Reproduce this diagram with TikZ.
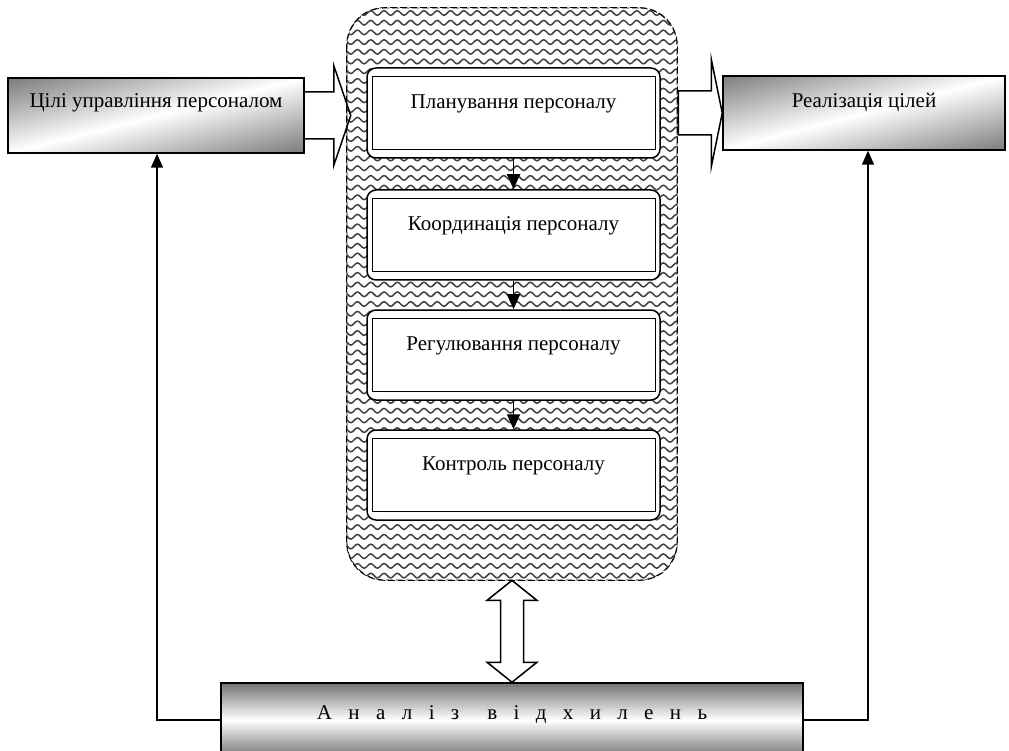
\documentclass[tikz,border=0pt]{standalone}
\usepackage{fontspec}
\setmainfont{Liberation Serif}
\usetikzlibrary{calc,decorations.pathmorphing,arrows.meta}
\begin{document}
\begin{tikzpicture}[x=1pt,y=-1pt,
  font=\fontsize{21}{25}\selectfont,
  gradbox/.style={draw=black, line width=1.5pt, inner sep=0pt,
    path picture={
      \shade[draw=none, solid, sharp corners, transform canvas={rotate around={#1:(path picture bounding box.center)}},
        top color=black!52, bottom color=black!52, middle color=white]
        ($(path picture bounding box.center)+(-220,-73)$) rectangle ($(path picture bounding box.center)+(220,73)$);
    }},
  anabox/.style={draw=black, line width=1.5pt, top color=black!55, bottom color=black!55, middle color=white, inner sep=0pt},
  stage/.style={draw=black, line width=1.5pt, rounded corners=9pt, fill=white, minimum width=293pt, minimum height=90pt, text height=13pt, text depth=22pt, inner sep=0pt},
  innerframe/.style={draw=black, line width=1.3pt},
  wave/.style={draw=black!75, line width=1.5pt, solid, sharp corners, decorate, decoration={snake, amplitude=2.3pt, segment length=13.3pt}},
  container/.style={draw=black, line width=0.8pt, dash pattern=on 7pt off 3pt, rounded corners=38pt, minimum width=330pt, minimum height=572pt, inner sep=0pt},
  hollow/.style={draw=black, line width=1.5pt, line join=miter},
  stagearrow/.style={draw=black, line width=1.8pt, -{Triangle[length=15pt,width=13pt]}},
  fb/.style={draw=black, line width=1.5pt, -{Triangle[length=14pt,width=12pt]}}
]
\clip (0,0) rectangle (1009,751);
\useasboundingbox (0,0) rectangle (1009,751);

% side boxes
\node[gradbox=14.2, minimum width=296pt, minimum height=75pt, text height=13pt, text depth=28pt] (goals) at (156,115.5) {Цілі управління персоналом};
\node[gradbox=14.7, minimum width=282pt, minimum height=74pt, text height=13pt, text depth=24pt] (real) at (864,113) {Реалізація цілей};

% container with wave pattern
\node[container] (cont) at (512,294) {};
\begin{scope}
  \clip[rounded corners=38pt] (cont.north west) rectangle (cont.south east);
  \foreach \i in {0,...,60}{
    \draw[wave] (340,{13+\i*9.7}) -- (690,{13+\i*9.7});
  }
\end{scope}
\draw[container] (cont.north west) rectangle (cont.south east);

% stages
\node[stage] (p1) at (513.5,113) {Планування персоналу};
\node[stage] (p2) at (513.5,235) {Координація персоналу};
\node[stage] (p3) at (513.5,355) {Регулювання персоналу};
\node[stage] (p4) at (513.5,475) {Контроль персоналу};
\foreach \n in {p1,p2,p3,p4}{
  \draw[innerframe] ($(\n.north west)+(6,9.5)$) rectangle ($(\n.south east)+(-5,-9)$);
}
\draw[stagearrow] (p1.south) -- (p2.north);
\draw[stagearrow] (p2.south) -- (p3.north);
\draw[stagearrow] (p3.south) -- (p4.north);

% analysis box
\node[anabox, minimum width=582pt, minimum height=74pt, text height=13pt, text depth=14pt] (ana) at (512,720) {\addfontfeatures{LetterSpace=78}Аналіз\hspace{28pt}відхилень\hspace{14pt}};

% hollow arrows
\draw[hollow] ($(goals.east)+(0,-23.5)$) -- ($(goals.east)+(29,-23.5)$) -- ($(goals.east)+(29,-50)$) -- ($(goals.east)+(46,0)$) -- ($(goals.east)+(29,50)$) -- ($(goals.east)+(29,23.5)$) -- ($(goals.east)+(0,23.5)$);
\draw[hollow] ($(cont.east |- real.west)+(1,-22)$) -- ($(real.west)+(-11,-22)$) -- ($(real.west)+(-11,-54)$) -- (real.west) -- ($(real.west)+(-11,54)$) -- ($(real.west)+(-11,22)$) -- ($(cont.east |- real.west)+(1,22)$) -- cycle;
\draw[hollow] (cont.south) -- ($(cont.south)+(25,20)$) -- ($(cont.south)+(11.5,20)$) -- ($(ana.north)+(11.5,-20)$) -- ($(ana.north)+(25,-20)$) -- (ana.north) -- ($(ana.north)+(-25,-20)$) -- ($(ana.north)+(-11.5,-20)$) -- ($(cont.south)+(-11.5,20)$) -- ($(cont.south)+(-25,20)$) -- cycle;

% feedback lines
\draw[fb] (ana.west) -| ($(goals.south)+(1,0)$);
\draw[fb] (ana.east) -| ($(real.south)+(4,0)$);
\end{tikzpicture}
\end{document}
